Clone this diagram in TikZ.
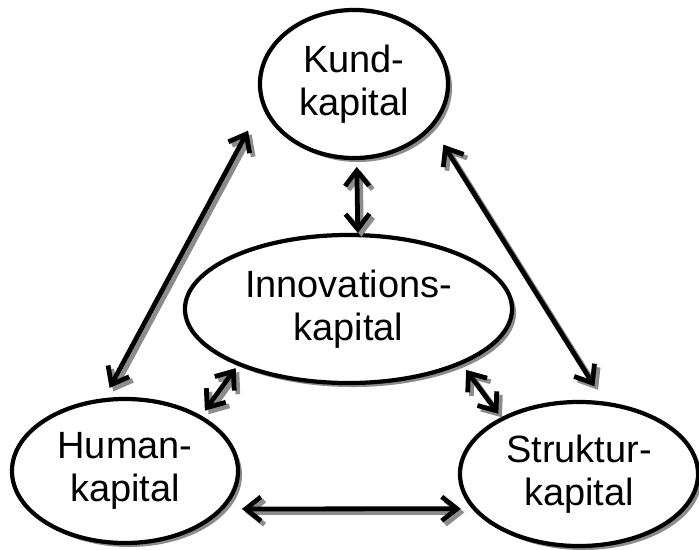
\documentclass[tikz,border=0pt]{standalone}
\usepackage{fontspec}
\setmainfont{Liberation Sans}
\usetikzlibrary{arrows.meta,shapes.geometric,shadows}
\definecolor{skugga}{RGB}{140,140,140}

\begin{document}
\begin{tikzpicture}[x=0.025cm,y=-0.025cm,
  kap/.style={shape=ellipse,draw=black,line width=3pt,fill=white,inner sep=0pt,align=center,
    font=\fontsize{27}{31}\selectfont,
    drop shadow={shadow xshift=0.1cm,shadow yshift=-0.1cm,fill=skugga,opacity=1}},
  pil/.style={line width=3.4pt,{Straight Barb[length=3.8mm,width=6mm]}-{Straight Barb[length=3.8mm,width=6mm]},
    preaction={draw=skugga,line width=3.4pt,transform canvas={xshift=0.09cm,yshift=-0.09cm}}}]
\useasboundingbox (0,0) rectangle (699,549);

\node[kap,minimum width=4.7cm,minimum height=3.7cm] (Kund) at (354,84) {Kund-\\kapital};
\node[kap,minimum width=8.175cm,minimum height=3.7cm] (Innovations) at (348.5,309) {Innovations-\\kapital};
\node[kap,minimum width=5.65cm,minimum height=3.6cm] (Human) at (125,471) {Human-\\kapital};
\node[kap,minimum width=5.95cm,minimum height=3.6cm] (Struktur) at (579,474) {Struktur-\\kapital};

\draw[pil,shorten <=0.72cm,shorten >=0.29cm] (Kund.193) -- (Human.106);
\draw[pil,shorten <=0.5cm,shorten >=0.45cm] (Kund.331.5) -- (Struktur.71.6);
\draw[pil,shorten <=0.17cm] (Kund.272) -- (Innovations.83);
\draw[pil,shorten <=0.08cm,shorten >=0.15cm] (Innovations.207) -- (Human.36);
\draw[pil,shorten <=0.17cm,shorten >=0.11cm] (Innovations.334.5) -- (Struktur.144);
\draw[pil,shorten <=0.45cm,shorten >=0.28cm] (Human.339) -- (Struktur.198);
\end{tikzpicture}
\end{document}
